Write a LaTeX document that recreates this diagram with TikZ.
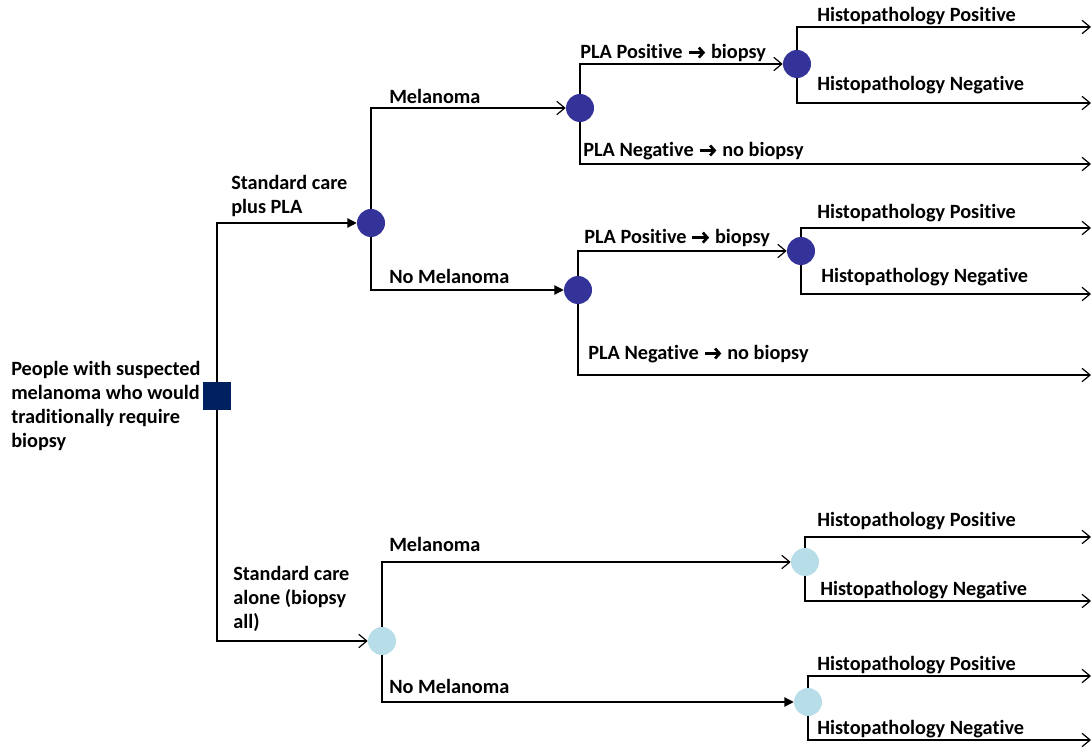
\documentclass[tikz,border=0pt]{standalone}
\usepackage{fontspec}
\setmainfont{Carlito}[Ligatures={NoCommon}]
\usetikzlibrary{arrows.meta}
\definecolor{navy}{HTML}{002060}
\definecolor{chance}{HTML}{333399}
\definecolor{chancelight}{HTML}{B7DEE8}
% bold "then" arrow set inside the labels
\newcommand{\thento}{\begin{pgfpicture}%
  \pgfsetbaseline{-0.6ex}%
  \pgfsetlinewidth{2pt}%
  \pgfsetarrowsend{Straight Barb[length=3.4pt,width=7.5pt,line width=2pt]}%
  \pgfpathmoveto{\pgfpoint{0pt}{0pt}}%
  \pgfpathlineto{\pgfpoint{12.5pt}{0pt}}%
  \pgfusepath{stroke}%
\end{pgfpicture}}
\tikzset{
  decision/.style={rectangle, fill=navy, minimum size=21pt, inner sep=0pt},
  chancedark/.style={circle, fill=chance, minimum size=21pt, inner sep=0pt},
  chancepale/.style={circle, fill=chancelight, minimum size=21pt, inner sep=0pt},
  openarr/.style={line width=0.9pt, -{Straight Barb[length=6pt,width=10pt,line width=0.9pt]}},
  fillarr/.style={line width=0.9pt, -{Triangle[length=7pt,width=7pt]}},
  lbl/.style={anchor=west, inner sep=0pt, font=\fontsize{15.2}{18}\selectfont\bfseries, align=left}
}
\begin{document}
\begin{tikzpicture}[x=0.75pt,y=-0.75pt]
\useasboundingbox (0,0) rectangle (1092,748);

% decision and chance nodes
\node[decision] (root) at (217,396) {};
\node[chancedark] (A) at (371,223) {};
\node[chancedark] (B) at (580,108) {};
\node[chancedark] (C) at (578,290) {};
\node[chancedark] (D) at (797,64) {};
\node[chancedark] (E) at (801,251) {};
\node[chancepale] (F) at (382,641) {};
\node[chancepale] (G) at (805,562) {};
\node[chancepale] (H) at (808,702) {};

% terminal ends at the right margin
\coordinate (tD1) at (1091,27);
\coordinate (tD2) at (1091,103);
\coordinate (tB2) at (1091,164);
\coordinate (tE1) at (1091,228);
\coordinate (tE2) at (1091,294);
\coordinate (tC2) at (1091,375);
\coordinate (tG1) at (1091,537);
\coordinate (tG2) at (1091,601);
\coordinate (tH1) at (1091,676);
\coordinate (tH2) at (1091,740);

% branches
\draw[fillarr] (root) |- (A);
\draw[openarr] (root) |- (F);

\draw[openarr] (A) |- (B);
\draw[fillarr] (A) |- (C);

\draw[openarr] (B) |- (D);
\draw[openarr] (B) |- (tB2);

\draw[openarr] (D) |- (tD1);
\draw[openarr] (D) |- (tD2);

\draw[openarr] (C) |- (E);
\draw[openarr] (C) |- (tC2);

\draw[openarr] (E) |- (tE1);
\draw[openarr] (E) |- (tE2);

\draw[openarr] (F) |- (G);
\draw[fillarr] (F) |- (H);

\draw[openarr] (G) |- (tG1);
\draw[openarr] (G) |- (tG2);
\draw[openarr] (H) |- (tH1);
\draw[openarr] (H) |- (tH2);

% labels
\node[lbl] (rootlbl) at (11,406) {People with suspected\\melanoma who would\\traditionally require\\biopsy};
\node[lbl] at (231,196) {Standard care\\plus PLA};
\node[lbl] at (233,599) {Standard care\\alone (biopsy\\all)};

\node[lbl] at (389,96) {Melanoma};
\node[lbl] at (389,276) {No Melanoma};
\node[lbl] at (579,53) {PLA Positive \thento{} biopsy};
\node[lbl] at (582,151) {PLA Negative \thento{} no biopsy};
\node[lbl] at (583,238) {PLA Positive \thento{} biopsy};
\node[lbl] at (587,354) {PLA Negative \thento{} no biopsy};

\node[lbl] at (817,16) {Histopathology Positive};
\node[lbl] at (817,85) {Histopathology Negative};
\node[lbl] at (817,213) {Histopathology Positive};
\node[lbl] at (821,277) {Histopathology Negative};

\node[lbl] at (389,544) {Melanoma};
\node[lbl] at (389,686) {No Melanoma};
\node[lbl] at (817,521) {Histopathology Positive};
\node[lbl] at (820,590) {Histopathology Negative};
\node[lbl] at (817,665) {Histopathology Positive};
\node[lbl] at (817,729) {Histopathology Negative};
\end{tikzpicture}
\end{document}
